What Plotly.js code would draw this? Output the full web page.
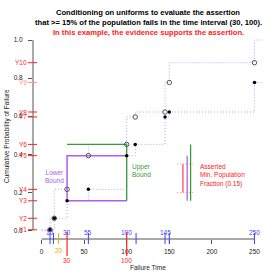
<!DOCTYPE html>
<html><head><meta charset="utf-8">
<script src="https://cdn.plot.ly/plotly-3.0.1.min.js"></script>
<style>html,body{margin:0;padding:0;background:#fff}#c{width:280px;height:280px}</style>
</head><body><div id="c"></div>
<script>
// ---- data ----
const levelNames = ["Y1","Y2","Y3","Y4","Y5","Y6","Y7","Y8","Y9","Y10"];
const levelValues = [0.004,0.064,0.156,0.216,0.393,0.452,0.596,0.622,0.777,0.881];
const jumpTimes = [10,15,30,55,100,110,145,150,250];
// lower (filled-dot) step function
const lowerStepT = [0,10,15,30,55,100,110,145,150,250,260];
const lowerStepY = [0,0.004,0.064,0.156,0.216,0.393,0.452,0.596,0.622,0.777,0.777];
// upper (open-circle) step function
const upperStepT = [0,10,15,30,55,100,110,145,150,250,260];
const upperStepY = [0.004,0.064,0.216,0.393,0.452,0.596,0.622,0.777,0.881,1.0,1.0];
const filledY = [0.004,0.064,0.156,0.216,0.393,0.452,0.596,0.622,0.777];
const openY = [0.004,0.064,0.216,0.393,0.452,0.596,0.622,0.777,0.881];
const intervalStart = 30, intervalEnd = 100;
const lowerTop = 0.393, upperTop = 0.452, boundBottom = 0.156;
const assertedFraction = 0.15;
const blueTickTimes = [10,14,55,111,145,150,250];
const blueLabelTimes = [10,30,55,100,145,250];
const orangeTime = 20;
const xTickVals = [0,50,100,150,200,250];
const yTickVals = [0,0.2,0.4,0.6,0.8,1.0];

// ---- geometry helpers (pixel -> paper) ----
const L=33, R=17, T=32, B=41, W=280, H=280;
const pw = W-L-R, ph = H-T-B;
const py = p => (H-B-p)/ph;
const px = p => (p-L)/pw;

const FONT = "Liberation Sans, Arial, Helvetica, sans-serif";
const RED = "#ff2020", BLUE="#3f3fff", PURPLE="#b060f0", GREEN="#3a9a3a", ORANGE="#ffa500";
const DOT = "1px,2px";

const traces = [];
traces.push({x:lowerStepT,y:lowerStepY,mode:"lines",line:{shape:"hv",color:"#a8a8ff",width:1,dash:DOT},hoverinfo:"skip"});
traces.push({x:upperStepT,y:upperStepY,mode:"lines",line:{shape:"hv",color:"#a8a8ff",width:1,dash:DOT},hoverinfo:"skip"});
// bounds
traces.push({x:[intervalEnd,intervalStart,intervalStart,intervalEnd],y:[lowerTop,lowerTop,boundBottom,boundBottom],mode:"lines",line:{color:PURPLE,width:1.5}});
traces.push({x:[intervalStart,intervalEnd,intervalEnd],y:[upperTop,upperTop,boundBottom],mode:"lines",line:{color:GREEN,width:1.3}});
// points
traces.push({x:jumpTimes,y:openY,mode:"markers",marker:{symbol:"circle-open",size:4.5,color:"#555",line:{width:1}}});
traces.push({x:jumpTimes,y:filledY,mode:"markers",marker:{symbol:"circle",size:3.5,color:"#000"}});
// right-side comparison bars
const mid = (lowerTop+boundBottom)/2;
traces.push({x:[166,166],y:[mid-assertedFraction/2,mid+assertedFraction/2],mode:"lines",line:{color:"#ff5050",width:1.3}});
traces.push({x:[159.3,177.7],y:[mid+assertedFraction/2,mid+assertedFraction/2],mode:"lines",line:{color:"#ff8080",width:1,dash:DOT}});
traces.push({x:[159.3,177.7],y:[mid-assertedFraction/2,mid-assertedFraction/2],mode:"lines",line:{color:"#ff8080",width:1,dash:DOT}});
traces.push({x:[171,171],y:[boundBottom,lowerTop],mode:"lines",line:{color:PURPLE,width:1.3}});
traces.push({x:[175,175],y:[boundBottom,upperTop],mode:"lines",line:{color:GREEN,width:1.3}});

const shapes = [];
const ann = [];
// axis lines spanning only the tick range
shapes.push({type:"line",xref:"x",yref:"paper",x0:0,x1:250,y0:0,y1:0,line:{color:"#555",width:1}});
shapes.push({type:"line",xref:"paper",yref:"y",x0:0,x1:0,y0:0,y1:1,line:{color:"#555",width:1}});
// red level ticks & labels
levelNames.forEach((n,i)=>{
  const c = n==="Y9" ? "#ff9090" : RED;
  shapes.push({type:"line",xref:"paper",yref:"y",x0:px(28),x1:px(37),y0:levelValues[i],y1:levelValues[i],line:{color:c,width:1}});
  ann.push({xref:"paper",yref:"y",x:px(28),y:levelValues[i],text:n,showarrow:false,xanchor:"right",yanchor:"middle",font:{family:FONT,size:6.5,color:c},borderpad:0});
});
// blue ticks and labels on time axis
blueTickTimes.forEach(t=>shapes.push({type:"line",xref:"x",yref:"paper",x0:t,x1:t,y0:py(233),y1:py(244),line:{color:BLUE,width:1}}));
blueLabelTimes.forEach(t=>ann.push({xref:"x",yref:"paper",x:t,y:py(232),text:String(t),showarrow:false,xanchor:"center",yanchor:"middle",font:{family:FONT,size:6.5,color:BLUE},borderpad:0}));
// orange
shapes.push({type:"line",xref:"x",yref:"paper",x0:orangeTime,x1:orangeTime,y0:py(233),y1:py(244),line:{color:ORANGE,width:1}});
ann.push({xref:"x",yref:"paper",x:orangeTime,y:py(250),text:String(orangeTime),showarrow:false,yanchor:"middle",font:{family:FONT,size:6.5,color:ORANGE},borderpad:0});
// red interval markers
[intervalStart,intervalEnd].forEach(t=>{
  shapes.push({type:"line",xref:"x",yref:"paper",x0:t,x1:t,y0:py(232),y1:py(256),line:{color:RED,width:1.2}});
  ann.push({xref:"x",yref:"paper",x:t,y:py(260.5),text:String(t),showarrow:false,yanchor:"middle",font:{family:FONT,size:6.5,color:RED},borderpad:0});
});
// text labels
ann.push({xref:"x",yref:"y",x:15,y:0.282,text:"Lower<br>Bound",showarrow:false,align:"center",font:{family:FONT,size:6.5,color:PURPLE},borderpad:0});
ann.push({xref:"x",yref:"y",x:105,y:0.314,text:"Upper<br>Bound",showarrow:false,align:"left",xanchor:"left",font:{family:FONT,size:6.5,color:GREEN},borderpad:0});
ann.push({xref:"x",yref:"y",x:185,y:0.29,text:"Asserted<br>Min. Population<br>Fraction ("+assertedFraction.toFixed(2)+")",showarrow:false,align:"left",xanchor:"left",font:{family:FONT,size:6.5,color:RED},borderpad:0});
// titles
const t1 = "Conditioning on uniforms to evaluate the assertion";
const t2 = "that >= 15% of the population fails in the time interval (30, 100).";
const t3 = "In this example, the evidence supports the assertion.";
[[t1,12.3,"#000"],[t2,22.3,"#000"],[t3,32.2,RED]].forEach(([s,p,c])=>ann.push({xref:"paper",yref:"paper",x:0.5,y:py(p),text:"<b>"+s+"</b>",showarrow:false,xanchor:"center",yanchor:"middle",font:{family:FONT,size:7.6,color:c},borderpad:0}));
ann.push({xref:"paper",yref:"paper",x:0.5,y:py(267.3),text:"Failure Time",showarrow:false,yanchor:"middle",font:{family:FONT,size:6.5,color:"#222"},borderpad:0});
ann.push({xref:"paper",yref:"paper",x:px(7),y:py(136),text:"Cumulative Probability of Failure",textangle:-90,showarrow:false,xanchor:"center",yanchor:"middle",font:{family:FONT,size:6.5,color:"#222"},borderpad:0});

const layout = {
  width:W,height:H,margin:{l:L,r:R,t:T,b:B,pad:0},showlegend:false,
  paper_bgcolor:"#fff",plot_bgcolor:"#fff",
  xaxis:{range:[-10,260],tickvals:xTickVals,ticks:"outside",ticklen:4,tickcolor:"#555",showgrid:false,zeroline:false,showline:false,
    tickfont:{family:FONT,size:6.5,color:"#222"},ticklabelstandoff:2},
  yaxis:{range:[-0.0446,1.042],tickvals:yTickVals,tickformat:".1f",ticks:"outside",ticklen:4,tickcolor:"#555",showgrid:false,zeroline:false,showline:false,
    tickfont:{family:FONT,size:6.5,color:"#222"},ticklabelstandoff:4},
  shapes:shapes,annotations:ann
};
Plotly.newPlot("c",traces,layout,{staticPlot:true,displayModeBar:false});
</script></body></html>
